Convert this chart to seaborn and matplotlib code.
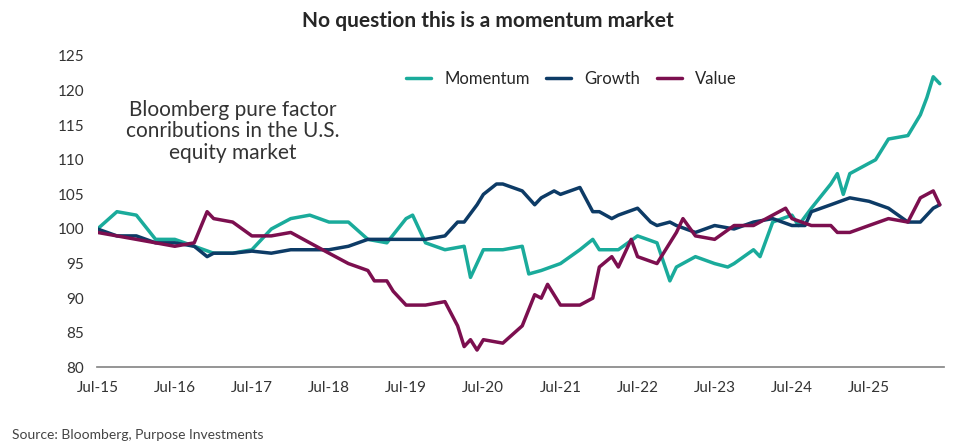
import matplotlib
matplotlib.use("Agg")
import matplotlib.pyplot as plt
import seaborn as sns
import pandas as pd
import matplotlib.dates as mdates

mom_dates = ["2015-07","2015-10","2016-01","2016-04","2016-07","2016-10","2017-01","2017-04","2017-07","2017-10","2018-01","2018-04","2018-07","2018-10","2019-01","2019-04","2019-07","2019-08","2019-10","2020-01","2020-04","2020-05","2020-07","2020-10","2021-01","2021-02","2021-04","2021-07","2021-10","2021-12","2022-01","2022-04","2022-07","2022-10","2022-12","2023-01","2023-04","2023-07","2023-09","2023-10","2024-01","2024-02","2024-04","2024-07","2024-08","2024-10","2025-01","2025-02","2025-03","2025-04","2025-07","2025-08","2025-10","2026-01","2026-03","2026-04","2026-05","2026-06"]
mom_vals = [100,102.5,102,98.5,98.5,97.5,96.5,96.5,97,100,101.5,102,101,101,98.5,98,101.5,102,98,97,97.5,93,97,97,97.5,93.5,94,95,97,98.5,97,97,99,98,92.5,94.5,96,95,94.5,95,97,96,101,102,100.5,103,106.5,108,105,108,109.5,110,113,113.5,116.5,119,122,121]

gr_dates = ["2015-07","2015-10","2016-01","2016-04","2016-07","2016-10","2016-12","2017-01","2017-04","2017-07","2017-10","2018-01","2018-04","2018-07","2018-10","2019-01","2019-04","2019-07","2019-10","2020-01","2020-03","2020-04","2020-06","2020-07","2020-09","2020-10","2021-01","2021-03","2021-04","2021-06","2021-07","2021-10","2021-12","2022-01","2022-03","2022-04","2022-07","2022-09","2022-10","2022-12","2023-01","2023-04","2023-07","2023-10","2024-01","2024-04","2024-07","2024-09","2024-10","2025-01","2025-04","2025-07","2025-10","2026-01","2026-03","2026-05","2026-06"]
gr_vals = [100,99,99,98,98,97.5,96,96.5,96.5,96.8,96.5,97,97,97,97.5,98.5,98.5,98.5,98.5,99,101,101,103.5,105,106.5,106.5,105.5,103.5,104.5,105.5,105,106,102.5,102.5,101.5,102,103,101,100.5,101,100.5,99.5,100.5,100,101,101.5,100.5,100.5,102.5,103.5,104.5,104,103,101,101,103,103.5]

val_dates = ["2015-07","2015-10","2016-01","2016-04","2016-07","2016-10","2016-12","2017-01","2017-04","2017-07","2017-10","2018-01","2018-04","2018-07","2018-10","2019-01","2019-02","2019-04","2019-05","2019-07","2019-10","2020-01","2020-03","2020-04","2020-05","2020-06","2020-07","2020-10","2021-01","2021-03","2021-04","2021-05","2021-07","2021-10","2021-12","2022-01","2022-03","2022-04","2022-06","2022-07","2022-10","2023-01","2023-02","2023-04","2023-07","2023-10","2024-01","2024-04","2024-06","2024-07","2024-10","2025-01","2025-02","2025-04","2025-07","2025-10","2026-01","2026-03","2026-05","2026-06"]
val_vals = [99.5,99,98.5,98,97.5,98,102.5,101.5,101,99,99,99.5,98,96.5,95,94,92.5,92.5,91,89,89,89.5,86,83,84,82.5,84,83.5,86,90.5,90,92,89,89,90,94.5,96,94.5,98.5,96,95,99.5,101.5,99,98.5,100.5,100.5,102,103,101.5,100.5,100.5,99.5,99.5,100.5,101.5,101,104.5,105.5,103.5]

tick_labels = ["Jul-15","Jul-16","Jul-17","Jul-18","Jul-19","Jul-20","Jul-21","Jul-22","Jul-23","Jul-24","Jul-25"]

df = pd.concat([
    pd.DataFrame({"date": pd.to_datetime(mom_dates), "v": mom_vals, "s": "Momentum"}),
    pd.DataFrame({"date": pd.to_datetime(gr_dates), "v": gr_vals, "s": "Growth"}),
    pd.DataFrame({"date": pd.to_datetime(val_dates), "v": val_vals, "s": "Value"}),
])

sns.set_theme(style="white")
plt.rcParams['font.family'] = ['Lato', 'DejaVu Sans']
fig, ax = plt.subplots(figsize=(9.75, 4.48), dpi=100)
fig.subplots_adjust(left=0.1, right=0.968, top=0.875, bottom=0.18)
pal = {"Momentum": "#1aab9b", "Growth": "#0d3b66", "Value": "#7c0f4f"}
sns.lineplot(data=df, x="date", y="v", hue="s", palette=pal, linewidth=2.5, ax=ax)
ax.set_ylim(80, 125)
ax.set_yticks(range(80, 126, 5))
ax.set_xlim(pd.Timestamp("2015-07-01"), pd.Timestamp("2026-06-20"))
ticks = [pd.Timestamp(f"{2015+i}-07-01") for i in range(len(tick_labels))]
ax.set_xticks(ticks)
ax.set_xticklabels(tick_labels)
ax.tick_params(labelsize=11, colors="#333333")
for sp in ["top", "right", "left"]:
    ax.spines[sp].set_visible(False)
ax.spines["bottom"].set_color("#888888")
ax.set_xlabel(""); ax.set_ylabel("")
ax.legend(title=None, loc="upper center", bbox_to_anchor=(0.56, 1.0), ncol=3, frameon=False,
          fontsize=12, handlelength=1.5, columnspacing=1.0)
ax.text(0.16, 0.86, "Bloomberg pure factor\nconributions in the U.S.\nequity market", transform=ax.transAxes,
        ha="center", va="top", fontsize=15, color="#333333", linespacing=1.1)
fig.suptitle("No question this is a momentum market", fontsize=15, fontweight="bold", y=0.975)
fig.text(0.012, 0.02, "Source: Bloomberg, Purpose Investments", fontsize=10, color="#444444")
fig.savefig("out.png")
